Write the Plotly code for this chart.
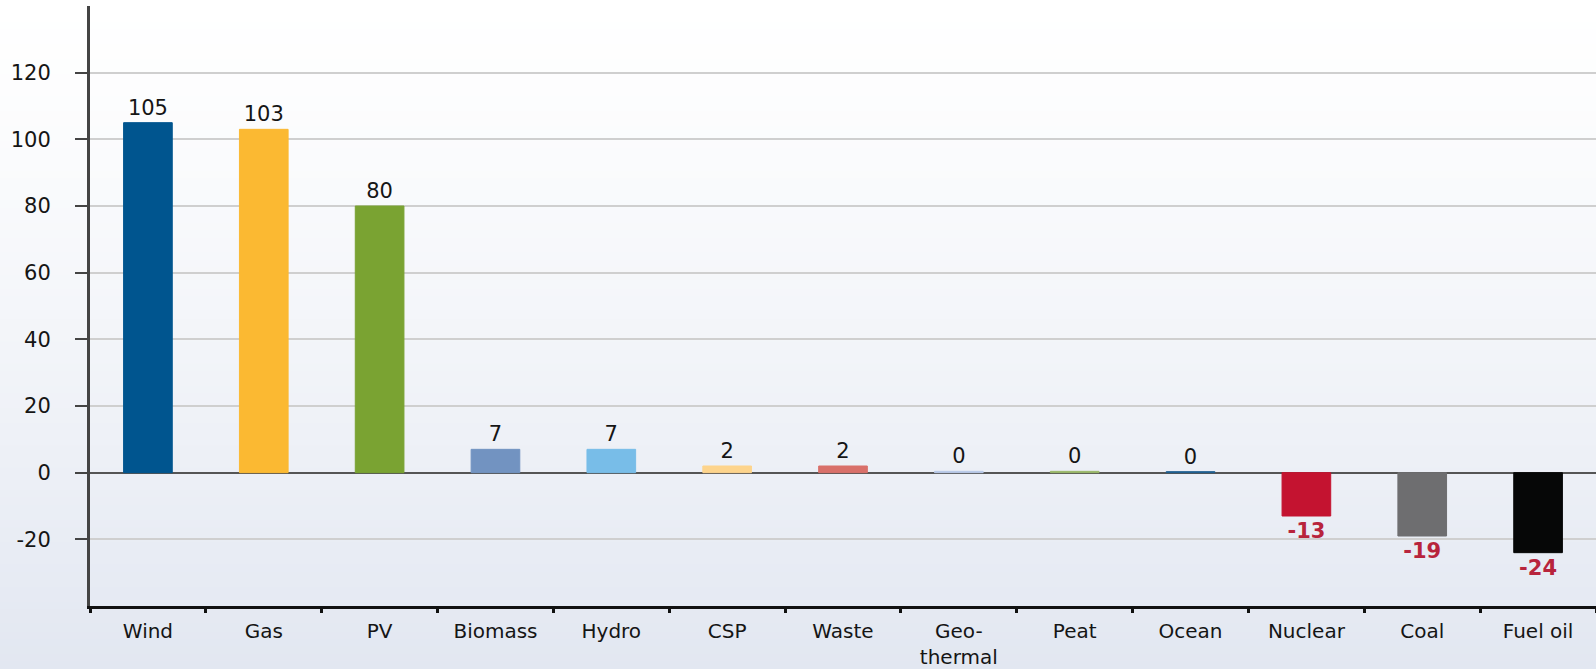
import plotly.graph_objects as go

# Net change in installed capacity by technology
categories = ["Wind", "Gas", "PV", "Biomass", "Hydro", "CSP", "Waste",
              "Geo-<br>thermal", "Peat", "Ocean", "Nuclear", "Coal", "Fuel oil"]
values = [105, 103, 80, 7, 7, 2, 2, 0.4, 0.4, 0.3, -13, -19, -24]
bar_colors = ["#00558f", "#fbb932", "#7aa332", "#7293c1", "#78bde8", "#fdd48c",
              "#d9706a", "#b9c9e8", "#9bb86a", "#1f5f91", "#c41330", "#6e6e70",
              "#060707"]
y_tick_values = [-20, 0, 20, 40, 60, 80, 100, 120]

W, H = 1596, 669
M_L, M_R, M_T, M_B = 90, 0, 6, 63
plot_h = H - M_T - M_B
plot_w = W - M_L - M_R

FONT = "DejaVu Sans"
NEG_RED = "#b8243c"

# value labels use a plain hyphen for negatives
value_labels = [f"{v:.0f}" if v >= 0 else f"<b>{v:.0f}</b>" for v in values]
label_colors = ["#151515" if v >= 0 else NEG_RED for v in values]

fig = go.Figure(
    go.Bar(
        x=categories,
        y=values,
        width=0.42,
        marker=dict(color=bar_colors, line=dict(width=1, color=bar_colors)),
        text=value_labels,
        texttemplate="%{text}",
        textposition="outside",
        textfont=dict(family=FONT, size=21, color=label_colors),
        constraintext="none",
        cliponaxis=False,
        hoverinfo="skip",
    )
)

# Soft vertical background gradient: white at the top, pale blue-grey at the bottom
top_rgb = (255, 255, 255)
bot_rgb = (226, 231, 241)
n_bands = 90
shapes = []
for i in range(n_bands):
    y0_px = i * H / n_bands
    y1_px = (i + 1) * H / n_bands
    t = ((y0_px + y1_px) / 2 / H) ** 1.25
    c = tuple(round(a + (b - a) * t) for a, b in zip(top_rgb, bot_rgb))
    shapes.append(dict(
        type="rect", xref="paper", yref="paper", layer="below",
        x0=-M_L / plot_w, x1=1.0 + M_R / plot_w,
        y0=(H - M_B - y1_px) / plot_h - 0.001, y1=(H - M_B - y0_px) / plot_h + 0.001,
        fillcolor="rgb(%d,%d,%d)" % c, line=dict(width=0),
    ))

fig.update_layout(
    width=W, height=H,
    margin=dict(l=M_L, r=M_R, t=M_T, b=M_B, pad=0, autoexpand=False),
    paper_bgcolor="rgba(0,0,0,0)",
    plot_bgcolor="rgba(0,0,0,0)",
    showlegend=False,
    shapes=shapes,
    font=dict(family=FONT, size=21, color="#151515"),
)

fig.update_xaxes(
    type="category",
    automargin=False,
    showline=True, linecolor="#111111", linewidth=2.5,
    ticks="outside", tickson="boundaries", ticklen=4, tickwidth=3,
    tickcolor="#111111",
    ticklabelstandoff=5,
    tickfont=dict(family=FONT, size=20, color="#151515"),
    showgrid=False, zeroline=False,
)

fig.update_yaxes(
    range=[-40, 140],
    automargin=False,
    tickvals=y_tick_values,
    ticktext=[str(v) for v in y_tick_values],
    ticks="outside", ticklen=12, tickwidth=2, tickcolor="#444444",
    ticklabelstandoff=20,
    tickfont=dict(family=FONT, size=21, color="#151515"),
    showline=True, linecolor="#444444", linewidth=3,
    showgrid=True, gridcolor="#cfcfcf", gridwidth=2,
    zeroline=True, zerolinecolor="#555555", zerolinewidth=1.5,
)

fig.write_html("out.html")
